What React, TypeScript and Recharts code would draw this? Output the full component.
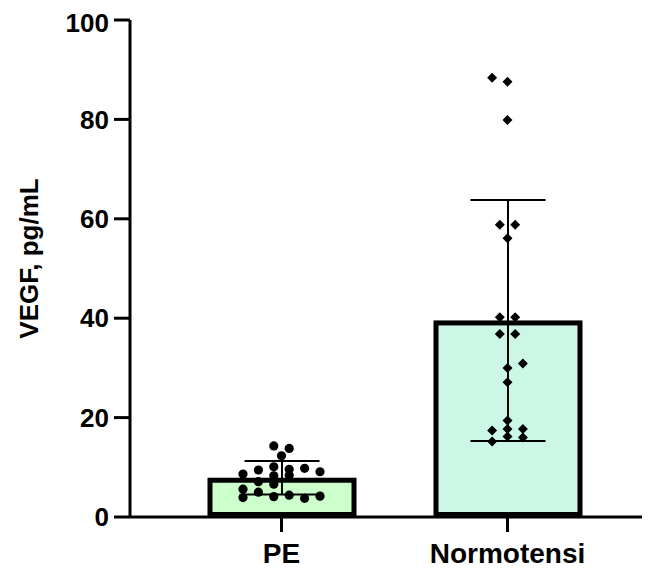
import React from "react";
import { ComposedChart, Bar, ErrorBar, Scatter, XAxis, YAxis } from "recharts";

const groups = ["PE", "Normotensi"];
const means = [7.9, 39.55];
const sds = [3.35, 24.25];

const peValues = [14.3, 13.8, 12.3, 8.65, 9.46, 10.1, 9.6, 9.8, 9.1, 8.3, 8.4, 7.1, 6.6, 5.6, 5.0, 3.9, 4.1, 4.4, 3.75, 4.2];
const peSlots = [-1, 1, 0, -5, -3, -1, 1, 3, 5, -1, 1, -3, -1, -5, -3, -5, -1, 1, 3, 5];

const normValues = [88.4, 87.6, 79.9, 58.8, 58.8, 56.1, 40.2, 40.2, 36.8, 36.8, 30.9, 30.0, 27.1, 19.4, 17.4, 17.7, 17.7, 15.2, 16.2, 16.0];
const normSlots = [-2, 0, 0, -1, 1, 0, -1, 1, -1, 1, 2, 0, 0, 0, -2, 0, 2, -2, 0, 2];

const yTicks = [0, 20, 40, 60, 80, 100];

const FILLS: Record<string, string> = {
  PE: "#ccffcc",
  Normotensi: "#ccf7e6",
};

const FONT = "'Liberation Sans', Arial, sans-serif";
const SLOT = 7.7;
const BORDER = 5;

const barData = groups.map((g, i) => ({ group: g, mean: means[i], err: sds[i] }));
const peData = peValues.map((v, i) => ({ group: "PE", value: v, slot: peSlots[i] }));
const normData = normValues.map((v, i) => ({ group: "Normotensi", value: v, slot: normSlots[i] }));

// GraphPad draws the border inside the bar outline
const InsetBar = (p: any) => {
  const h = BORDER / 2;
  return (
    <rect
      x={p.x + h}
      y={p.y + h}
      width={Math.max(p.width - BORDER, 0)}
      height={Math.max(p.height - BORDER, 0)}
      fill={FILLS[p.payload.group] ?? "#ccc"}
      stroke="#000"
      strokeWidth={BORDER}
    />
  );
};

const Circle = (p: any) => (
  <circle cx={p.cx + p.payload.slot * SLOT} cy={p.cy} r={4.6} fill="#000" />
);

const Diamond = (p: any) => {
  const x = p.cx + p.payload.slot * SLOT;
  const y = p.cy;
  const r = 5;
  return <polygon points={`${x},${y - r} ${x + r},${y} ${x},${y + r} ${x - r},${y}`} fill="#000" />;
};

const YLabel = ({ viewBox }: any) => {
  const cx = viewBox.x + 21;
  const cy = viewBox.y + viewBox.height / 2 - 10;
  return (
    <text
      x={cx}
      y={cy}
      transform={`rotate(-90 ${cx} ${cy})`}
      textAnchor="middle"
      dominantBaseline="central"
      fontFamily={FONT}
      fontWeight="bold"
      fontSize={26}
      fill="#000"
    >
      VEGF, pg/mL
    </text>
  );
};

export default function App() {
  return (
    <ComposedChart
      width={642}
      height={561}
      data={barData}
      margin={{ top: 12, right: 0, bottom: 0, left: 0 }}
    >
      <XAxis
        dataKey="group"
        type="category"
        allowDuplicatedCategory={false}
        padding={{ left: 38.5, right: 29.5 }}
        height={52}
        axisLine={{ stroke: "#000", strokeWidth: 3 }}
        tickLine={{ stroke: "#000", strokeWidth: 3 }}
        tickSize={15}
        tickMargin={11}
        tick={{ fill: "#000", fontSize: 28, fontWeight: "bold", fontFamily: FONT }}
      />
      <YAxis
        type="number"
        domain={[0, 100]}
        ticks={yTicks}
        width={122}
        axisLine={{ stroke: "#000", strokeWidth: 3 }}
        tickLine={{ stroke: "#000", strokeWidth: 3 }}
        tickSize={16}
        tickMargin={5}
        tick={{ fill: "#000", fontSize: 26, fontWeight: "bold", fontFamily: FONT }}
        label={<YLabel />}
      />
      <Bar dataKey="mean" barSize={149} shape={InsetBar} isAnimationActive={false}>
        <ErrorBar dataKey="err" width={37.5} stroke="#000" strokeWidth={2} direction="y" />
      </Bar>
      <Scatter data={peData} dataKey="value" shape={Circle} isAnimationActive={false} />
      <Scatter data={normData} dataKey="value" shape={Diamond} isAnimationActive={false} />
    </ComposedChart>
  );
}
